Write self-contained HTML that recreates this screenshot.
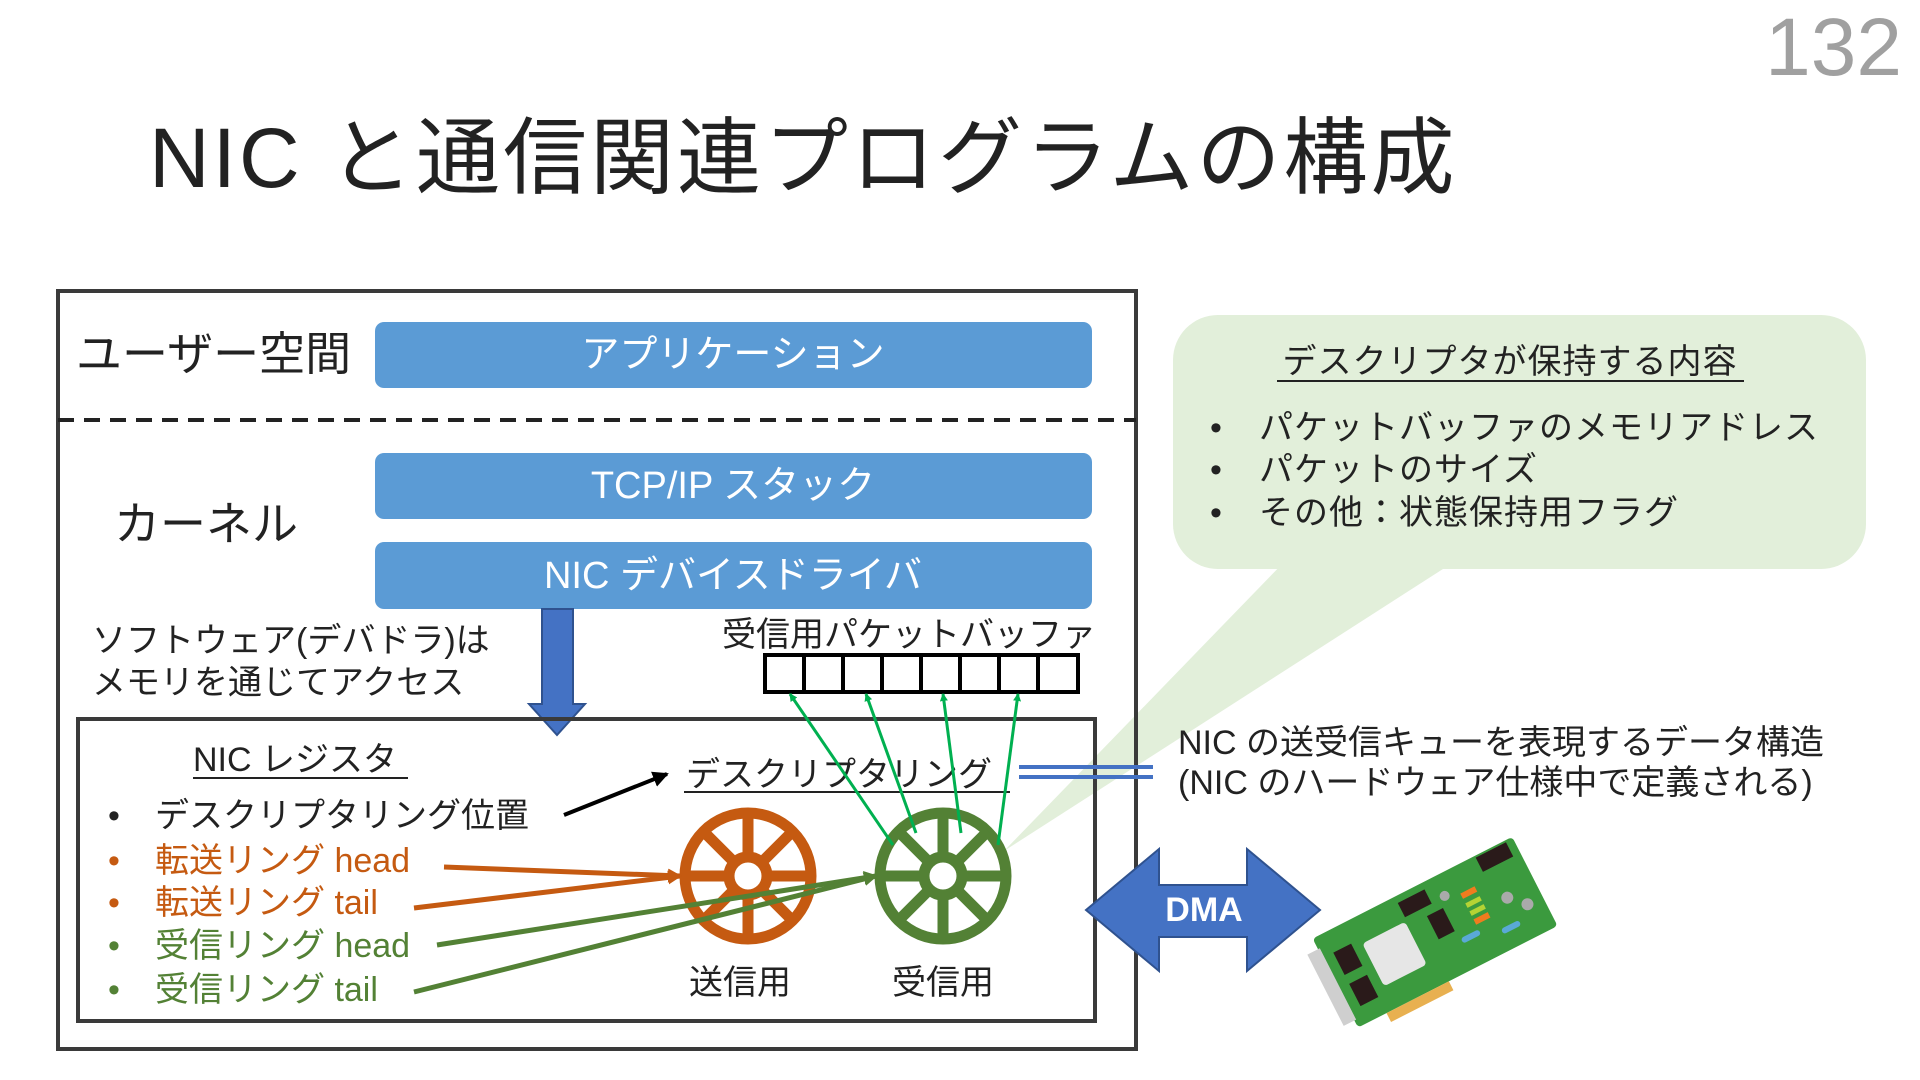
<!DOCTYPE html>
<html><head><meta charset="utf-8"><style>
html,body{margin:0;padding:0;background:#fff;}
svg{display:block;}
text{font-family:"Liberation Sans","Noto Sans CJK JP",sans-serif;}
</style></head><body>
<svg width="1920" height="1080" viewBox="0 0 1920 1080" xmlns="http://www.w3.org/2000/svg">
<defs>
<marker id="ag" markerWidth="8" markerHeight="8" refX="7" refY="4" orient="auto" markerUnits="userSpaceOnUse"><path d="M0,0 L8,4 L0,8 z" fill="#00b050"/></marker>
<marker id="ao" markerWidth="14" markerHeight="14" refX="12" refY="7" orient="auto" markerUnits="userSpaceOnUse"><path d="M0,0 L14,7 L0,14 z" fill="#c55a11"/></marker>
<marker id="agr" markerWidth="14" markerHeight="14" refX="12" refY="7" orient="auto" markerUnits="userSpaceOnUse"><path d="M0,0 L14,7 L0,14 z" fill="#538135"/></marker>
<marker id="ab" markerWidth="16" markerHeight="16" refX="14" refY="8" orient="auto" markerUnits="userSpaceOnUse"><path d="M0,0 L16,8 L0,16 z" fill="#000"/></marker>
</defs>
<text x="1902" y="75" text-anchor="end" font-size="82" fill="#a0a0a0">132</text>
<text x="149" y="187" font-size="84" fill="#222" letter-spacing="3">NIC と通信関連プログラムの構成</text>

<!-- callout -->
<path d="M1286,560 L1004,851 L1457,560 z" fill="#e2efda"/>
<rect x="1173" y="315" width="693" height="254" rx="45" fill="#e2efda"/>
<text x="1510" y="373" text-anchor="middle" font-size="34" fill="#222" letter-spacing="1">デスクリプタが保持する内容</text>
<line x1="1277" y1="381" x2="1744" y2="381" stroke="#222" stroke-width="2"/>
<g font-size="34" fill="#222" letter-spacing="1">
<text x="1210" y="439">•</text><text x="1259" y="439">パケットバッファのメモリアドレス</text>
<text x="1210" y="481">•</text><text x="1259" y="481">パケットのサイズ</text>
<text x="1210" y="524">•</text><text x="1259" y="524">その他：状態保持用フラグ</text>
</g>

<!-- outer box -->
<rect x="58" y="291" width="1078" height="758" fill="none" stroke="#3a3a3a" stroke-width="4"/>
<line x1="58" y1="420" x2="1136" y2="420" stroke="#222" stroke-width="4" stroke-dasharray="16,10"/>
<text x="76" y="370" font-size="46" fill="#222">ユーザー空間</text>
<rect x="375" y="322" width="717" height="66" rx="9" fill="#5b9bd5"/>
<text x="733" y="367" text-anchor="middle" font-size="38" fill="#fff">アプリケーション</text>
<text x="114" y="540" font-size="46" fill="#222">カーネル</text>
<rect x="375" y="453" width="717" height="66" rx="9" fill="#5b9bd5"/>
<text x="733" y="498" text-anchor="middle" font-size="38" fill="#fff">TCP/IP スタック</text>
<rect x="375" y="542" width="717" height="67" rx="9" fill="#5b9bd5"/>
<text x="733" y="588" text-anchor="middle" font-size="38" fill="#fff">NIC デバイスドライバ</text>

<path d="M542,609 L573,609 L573,704 L585,704 L557,735 L529,704 L542,704 z" fill="#4472c4" stroke="#2f528f" stroke-width="2"/>
<g font-size="34" fill="#222">
<text x="92" y="652">ソフトウェア(デバドラ)は</text>
<text x="92" y="694">メモリを通じてアクセス</text>
<text x="722" y="646">受信用パケットバッファ</text>
</g>
<rect x="765" y="655" width="313" height="37" fill="#fff" stroke="#000" stroke-width="4"/>
<g stroke="#000" stroke-width="4">
<line x1="804" y1="655" x2="804" y2="692"/><line x1="843" y1="655" x2="843" y2="692"/><line x1="882" y1="655" x2="882" y2="692"/><line x1="921" y1="655" x2="921" y2="692"/><line x1="960" y1="655" x2="960" y2="692"/><line x1="999" y1="655" x2="999" y2="692"/><line x1="1038" y1="655" x2="1038" y2="692"/>
</g>

<!-- inner box -->
<rect x="78" y="719" width="1017" height="302" fill="none" stroke="#3a3a3a" stroke-width="4"/>
<text x="193" y="771" font-size="34" fill="#222">NIC レジスタ</text>
<line x1="193" y1="778" x2="408" y2="778" stroke="#222" stroke-width="2"/>
<g font-size="34">
<text x="108" y="827" fill="#222">•</text><text x="155" y="827" fill="#222">デスクリプタリング位置</text>
<text x="108" y="872" fill="#c55a11">•</text><text x="155" y="872" fill="#c55a11">転送リング head</text>
<text x="108" y="914" fill="#c55a11">•</text><text x="155" y="914" fill="#c55a11">転送リング tail</text>
<text x="108" y="957" fill="#538135">•</text><text x="155" y="957" fill="#538135">受信リング head</text>
<text x="108" y="1001" fill="#538135">•</text><text x="155" y="1001" fill="#538135">受信リング tail</text>
</g>
<text x="686" y="786" font-size="34" fill="#222">デスクリプタリング</text>
<line x1="684" y1="792" x2="1010" y2="792" stroke="#222" stroke-width="2"/>
<line x1="564" y1="815" x2="667" y2="774" stroke="#000" stroke-width="4" marker-end="url(#ab)"/>

<!-- wheels -->
<g stroke="#c55a11" stroke-width="11" fill="none">
<circle cx="748" cy="876" r="63"/><circle cx="748" cy="876" r="19"/>
<line x1="748" y1="813" x2="748" y2="857"/><line x1="748" y1="895" x2="748" y2="939"/>
<line x1="685" y1="876" x2="729" y2="876"/><line x1="767" y1="876" x2="811" y2="876"/>
<line x1="703" y1="831" x2="735" y2="863"/><line x1="761" y1="889" x2="793" y2="921"/>
<line x1="793" y1="831" x2="761" y2="863"/><line x1="735" y1="889" x2="703" y2="921"/>
</g>
<g stroke="#538135" stroke-width="11" fill="none">
<circle cx="943" cy="876" r="63"/><circle cx="943" cy="876" r="19"/>
<line x1="943" y1="813" x2="943" y2="857"/><line x1="943" y1="895" x2="943" y2="939"/>
<line x1="880" y1="876" x2="924" y2="876"/><line x1="962" y1="876" x2="1006" y2="876"/>
<line x1="898" y1="831" x2="930" y2="863"/><line x1="956" y1="889" x2="988" y2="921"/>
<line x1="988" y1="831" x2="956" y2="863"/><line x1="930" y1="889" x2="898" y2="921"/>
</g>
<text x="740" y="994" text-anchor="middle" font-size="34" fill="#222">送信用</text>
<text x="943" y="994" text-anchor="middle" font-size="34" fill="#222">受信用</text>

<!-- green arrows -->
<g stroke="#00b050" stroke-width="3" marker-end="url(#ag)">
<line x1="893" y1="845" x2="790" y2="694"/>
<line x1="916" y1="833" x2="866" y2="694"/>
<line x1="961" y1="833" x2="943" y2="694"/>
<line x1="998" y1="845" x2="1018" y2="694"/>
</g>
<g stroke-width="5">
<line x1="444" y1="867" x2="680" y2="876" stroke="#c55a11" marker-end="url(#ao)"/>
<line x1="414" y1="908" x2="680" y2="876" stroke="#c55a11" marker-end="url(#ao)"/>
<line x1="437" y1="945" x2="876" y2="876" stroke="#538135" marker-end="url(#agr)"/>
<line x1="414" y1="992" x2="876" y2="876" stroke="#538135" marker-end="url(#agr)"/>
</g>

<!-- double line -->
<line x1="1019" y1="767" x2="1153" y2="767" stroke="#4472c4" stroke-width="4"/>
<line x1="1019" y1="777" x2="1153" y2="777" stroke="#4472c4" stroke-width="4"/>
<g font-size="34" fill="#222">
<text x="1178" y="754">NIC の送受信キューを表現するデータ構造</text>
<text x="1178" y="794">(NIC のハードウェア仕様中で定義される)</text>
</g>

<!-- DMA -->
<path d="M1086,910 L1159,849 L1159,885 L1247,885 L1247,849 L1320,910 L1247,971 L1247,937 L1159,937 L1159,971 z" fill="#4472c4" stroke="#2f528f" stroke-width="2"/>
<text x="1204" y="921" text-anchor="middle" font-size="34" font-weight="bold" fill="#fff">DMA</text>

<!-- NIC card -->
<g transform="translate(1436,934) rotate(-27)">
<rect x="-112" y="-52" width="224" height="100" rx="4" fill="#3b9a3e"/>
<rect x="-80" y="48" width="70" height="10" fill="#e8b050"/>
<rect x="-124" y="-40" width="14" height="80" fill="#cfcfcf"/>
<rect x="-70" y="-25" width="48" height="48" rx="4" fill="#e6e6e6"/>
<rect x="-100" y="-30" width="20" height="25" fill="#2a1a1a"/>
<rect x="-100" y="5" width="20" height="25" fill="#2a1a1a"/>
<rect x="-20" y="-45" width="30" height="16" fill="#2a1a1a"/>
<rect x="0" y="-20" width="18" height="26" fill="#2a1a1a"/>
<rect x="70" y="-50" width="34" height="16" fill="#2a1a1a"/>
<rect x="40" y="-25" width="16" height="6" fill="#f07c1e"/>
<rect x="40" y="-14" width="16" height="5" fill="#b5d334"/>
<rect x="40" y="-5" width="16" height="5" fill="#b5d334"/>
<rect x="40" y="4" width="16" height="6" fill="#f07c1e"/>
<circle cx="80" cy="0" r="6" fill="#aaa"/><circle cx="95" cy="15" r="6" fill="#aaa"/><circle cx="25" cy="-30" r="5" fill="#aaa"/>
<rect x="20" y="15" width="20" height="6" rx="3" fill="#5aa9d6"/>
<rect x="60" y="25" width="20" height="6" rx="3" fill="#5aa9d6"/>
</g>
</svg>
</body></html>
